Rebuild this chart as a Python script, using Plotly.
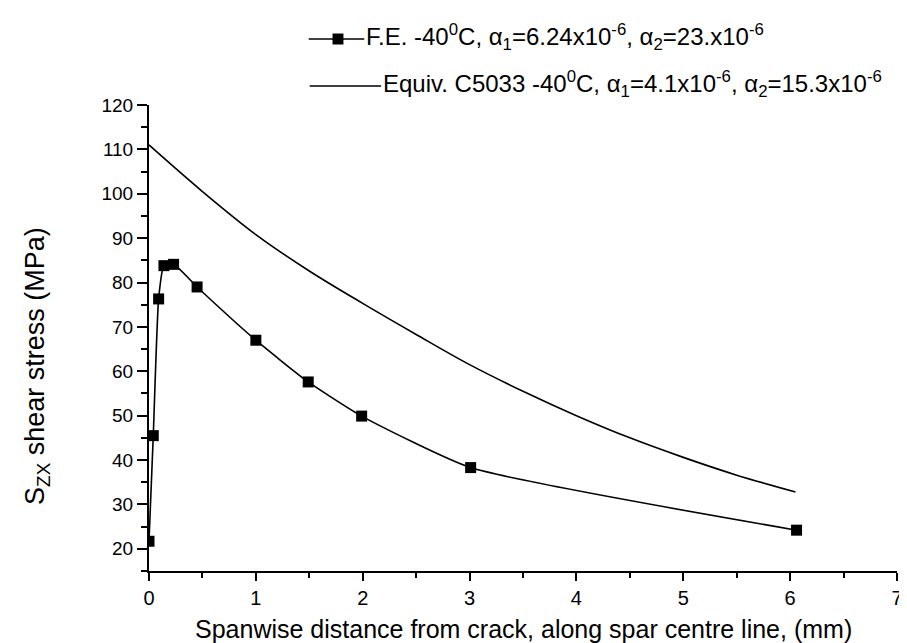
import plotly.graph_objects as go

# F.E. -40C data
fe_x = [0.0, 0.04, 0.09, 0.14, 0.23, 0.45, 1.0, 1.49, 1.99, 3.01, 6.06]
fe_y = [21.7, 45.5, 76.3, 83.8, 84.1, 79.0, 67.0, 57.6, 49.9, 38.3, 24.2]

# Equivalent C5033 curve
eq_x = [0.0, 0.5, 1.0, 1.5, 2.0, 2.5, 3.0, 3.5, 4.0, 4.5, 5.0, 5.5, 6.05]
eq_y = [111.0, 100.5, 90.8, 82.6, 75.3, 68.3, 61.5, 55.5, 50.0, 45.0, 40.6, 36.6, 32.8]

fe_name = "F.E. -40<sup>0</sup>C, α<sub>1</sub>=6.24x10<sup>-6</sup>, α<sub>2</sub>=23.x10<sup>-6</sup>"
eq_name = "Equiv. C5033 -40<sup>0</sup>C, α<sub>1</sub>=4.1x10<sup>-6</sup>, α<sub>2</sub>=15.3x10<sup>-6</sup>"
x_title = "Spanwise distance from crack, along spar centre line, (mm)"
y_title = "S<sub>ZX</sub> shear stress (MPa)"

x_ticks = [0, 1, 2, 3, 4, 5, 6, 7]
y_ticks = [20, 30, 40, 50, 60, 70, 80, 90, 100, 110, 120]

FONT = "Arial, Liberation Sans, sans-serif"

fig = go.Figure()
fig.add_trace(go.Scatter(
    x=fe_x, y=fe_y, name=fe_name, mode="lines+markers",
    line=dict(color="black", width=1.6, shape="spline", smoothing=0.5),
    marker=dict(symbol="square", size=11, color="black"),
    showlegend=False,
))
fig.add_trace(go.Scatter(
    x=eq_x, y=eq_y, name=eq_name, mode="lines",
    line=dict(color="black", width=1.6, shape="spline", smoothing=1.0),
    showlegend=False,
))

# Manual legend (paper coordinates)
L, R, T, B = 141, 12, 97, 80
W, H = 907 - L - R, 643 - T - B
def px(x):
    return (x - L) / W
def py(y):
    return (643 - B - y) / H

shapes = [
    dict(type="line", xref="paper", yref="paper", x0=px(302), x1=px(358), y0=py(31), y1=py(31),
         line=dict(color="black", width=1.5)),
    dict(type="rect", xref="paper", yref="paper", x0=px(326), x1=px(337), y0=py(25.5), y1=py(36.5),
         line=dict(color="black", width=0), fillcolor="black"),
    dict(type="line", xref="paper", yref="paper", x0=px(303), x1=px(375), y0=py(78), y1=py(78),
         line=dict(color="black", width=1.5)),
]
annotations = [
    dict(text=fe_name, xref="paper", yref="paper", x=px(358), y=py(29), xanchor="left", yanchor="middle",
         showarrow=False, font=dict(size=24, family=FONT, color="black")),
    dict(text=eq_name, xref="paper", yref="paper", x=px(375), y=py(76), xanchor="left", yanchor="middle",
         showarrow=False, font=dict(size=24, family=FONT, color="black")),
    dict(text=y_title, xref="paper", yref="paper", x=px(28), y=py(358),
         xanchor="center", yanchor="middle", textangle=-90, showarrow=False,
         font=dict(size=27, family=FONT, color="black")),
    dict(text=x_title, xref="paper", yref="paper", x=0.5, y=py(621),
         xanchor="center", yanchor="middle", showarrow=False, borderpad=0,
         font=dict(size=25, family=FONT, color="black")),
]

fig.update_layout(
    width=907, height=643,
    margin=dict(l=L, r=R, t=T, b=B),
    paper_bgcolor="white", plot_bgcolor="white",
    font=dict(family=FONT, color="black", size=20),
    showlegend=False,
    shapes=shapes,
    annotations=annotations,
)
fig.update_xaxes(
    range=[0, 7], tickvals=x_ticks, ticktext=[str(v) for v in x_ticks],
    showgrid=False, zeroline=False, showline=True, linecolor="black", linewidth=2,
    ticks="outside", ticklen=8, tickwidth=2, tickcolor="black",
    minor=dict(dtick=0.5, tick0=0, ticks="outside", ticklen=5, tickwidth=1.5, tickcolor="black"),
    tickfont=dict(size=20, family=FONT),
)
fig.update_yaxes(
    range=[15, 120], tickvals=y_ticks, ticktext=[str(v) for v in y_ticks],
    showgrid=False, zeroline=False, showline=True, linecolor="black", linewidth=2,
    ticks="outside", ticklen=10, tickwidth=2, tickcolor="black",
    minor=dict(dtick=5, tick0=15, ticks="outside", ticklen=6, tickwidth=1.5, tickcolor="black"),
    tickfont=dict(size=19, family=FONT),
)

fig.write_html("out.html")
